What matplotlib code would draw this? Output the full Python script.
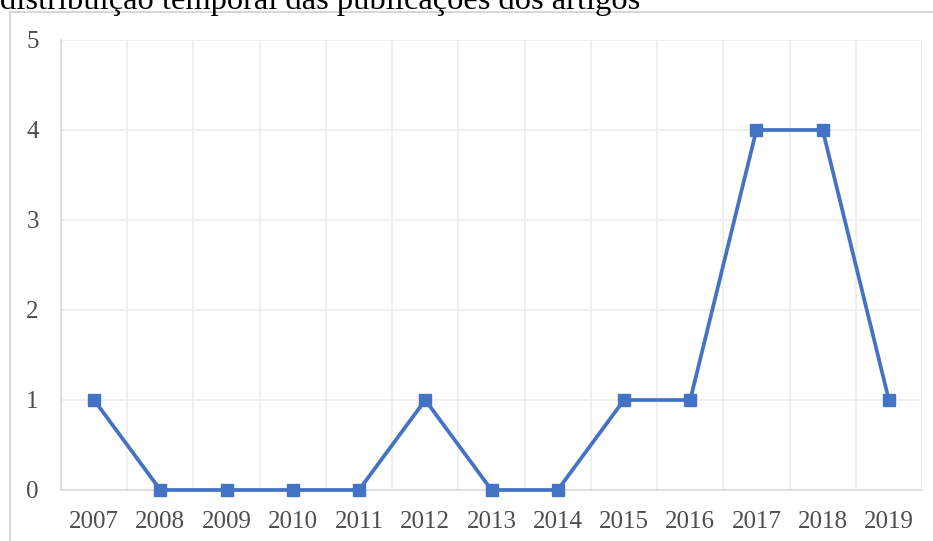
import matplotlib.pyplot as plt
from matplotlib.patches import Rectangle

# data
years = ['2007', '2008', '2009', '2010', '2011', '2012', '2013',
         '2014', '2015', '2016', '2017', '2018', '2019']
artigos = [1, 0, 0, 0, 0, 1, 0, 0, 1, 1, 4, 4, 1]
yticks = [0, 1, 2, 3, 4, 5]

W, H = 933, 541
fig = plt.figure(figsize=(W / 100, H / 100), dpi=100)

# frame of the chart object (runs off the right and bottom edge)
fig.patches.append(Rectangle((10 / W, -0.1), 1.1, 1 - 12 / H + 0.1,
                             transform=fig.transFigure, fill=False,
                             edgecolor='#d0d0d0', linewidth=1.2))

# caption above, cut off at the top of the picture
fig.text(0 / W, 1 - 9 / H, 'distribuição temporal das publicações dos artigos',
         fontsize=23.4, family='Liberation Serif', color='black',
         va='baseline', ha='left')

ax = fig.add_axes([61 / W, 51 / H, 861 / W, 450 / H])
x = list(range(len(years)))
ax.plot(x, artigos, color='#4472C4', linewidth=2.7, marker='s',
        markersize=8, zorder=3, clip_on=False)

ax.set_xlim(-0.5, len(years) - 0.5)
ax.set_ylim(0, 5)
ax.set_yticks(yticks)
ax.set_yticklabels([str(v) for v in yticks])
ax.set_xticks(x)
ax.set_xticklabels(years)

# gridlines between categories, as in the original spreadsheet chart
for b in range(1, len(years) + 1):
    ax.axvline(b - 0.5, color='#ececec', linewidth=1.2, zorder=0)
for v in yticks[1:]:
    ax.axhline(v, color='#ececec', linewidth=1.2, zorder=0)

for side in ['top', 'right']:
    ax.spines[side].set_visible(False)
for side in ['left', 'bottom']:
    ax.spines[side].set_color('#d9d9d9')
    ax.spines[side].set_linewidth(1.2)

ax.tick_params(axis='both', length=0, labelsize=18, labelcolor='#4d4d4d')
ax.tick_params(axis='y', pad=16)
ax.tick_params(axis='x', pad=15)
for lab in ax.get_xticklabels() + ax.get_yticklabels():
    lab.set_family('Liberation Serif')

fig.savefig('out.png', dpi=100)
